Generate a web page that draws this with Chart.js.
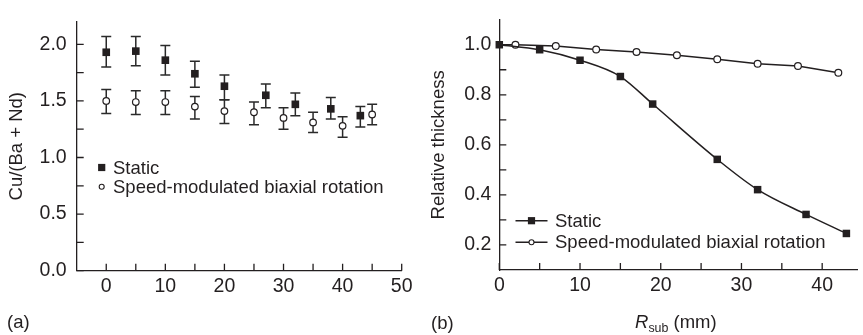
<!DOCTYPE html>
<html>
<head>
<meta charset="utf-8">
<script src="https://cdn.jsdelivr.net/npm/chart.js@4.4.1/dist/chart.umd.min.js"></script>
<style>
  body { margin: 0; background: #fff; width: 863px; height: 335px; position: relative; overflow: hidden;
         font-family: "Liberation Sans", Arial, sans-serif; color: #231f20; }
  #wa { position: absolute; left: 0; top: 0; width: 430px; height: 335px; }
  #wb { position: absolute; left: 430px; top: 0; width: 433px; height: 335px; }
  .lab { position: absolute; font-size: 18.5px; line-height: 1; white-space: nowrap; }
  .lab sub { font-size: 12.4px; vertical-align: -4px; line-height: 0; }
</style>
</head>
<body>
<div id="wa"><canvas id="ca" width="430" height="335"></canvas></div>
<div id="wb"><canvas id="cb" width="433" height="335"></canvas></div>
<div class="lab" style="left:7px;top:313px">(a)</div>
<div class="lab" style="left:431px;top:314px">(b)</div>
<div class="lab" style="left:635px;top:313px"><i>R</i><sub>sub</sub> (mm)</div>

<script>
// (a) Cu/(Ba + Nd) ratio, with error bar ends
const aStaticX  = [0, 5, 10, 15, 20, 27, 32, 38, 43];
const aStaticY  = [1.93, 1.94, 1.86, 1.74, 1.63, 1.55, 1.47, 1.43, 1.37];
const aStaticHi = [2.07, 2.07, 1.99, 1.85, 1.73, 1.65, 1.57, 1.53, 1.45];
const aStaticLo = [1.80, 1.81, 1.73, 1.62, 1.51, 1.44, 1.37, 1.34, 1.27];

const aRotX  = [0, 5, 10, 15, 20, 25, 30, 35, 40, 45];
const aRotY  = [1.50, 1.49, 1.49, 1.45, 1.41, 1.40, 1.35, 1.31, 1.28, 1.38];
const aRotHi = [1.60, 1.59, 1.59, 1.54, 1.51, 1.49, 1.44, 1.40, 1.36, 1.47];
const aRotLo = [1.39, 1.38, 1.38, 1.34, 1.30, 1.29, 1.25, 1.22, 1.18, 1.29];

// (b) relative thickness vs R_sub
const bStaticX = [0, 5, 10, 15, 19, 27, 32, 38, 43];
const bStaticY = [1.0, 0.98, 0.938, 0.873, 0.763, 0.542, 0.421, 0.322, 0.246];
const bRotX = [0, 2, 7, 12, 17, 22, 27, 32, 37, 42];
const bRotY = [1.0, 1.0, 0.995, 0.981, 0.971, 0.958, 0.942, 0.924, 0.915, 0.888];

// tick positions (labels only on the major ones)
const aTicksX = [0, 5, 10, 15, 20, 25, 30, 35, 40, 45, 50];
const aTicksY = [0, 0.25, 0.5, 0.75, 1.0, 1.25, 1.5, 1.75, 2.0];
const bTicksX = [0, 5, 10, 15, 20, 25, 30, 35, 40];
const bTicksY = [0.2, 0.3, 0.4, 0.5, 0.6, 0.7, 0.8, 0.9, 1.0];

const legendA = ['Static', 'Speed-modulated biaxial rotation'];
const legendB = ['Static', 'Speed-modulated biaxial rotation'];

const ink = '#231f20';
const FONT = '"Liberation Sans", Arial, sans-serif';
const pts = (xs, ys) => xs.map((x, i) => ({ x: x, y: ys[i] }));

// inward tick marks on both axes
const innerTicks = {
  id: 'innerTicks',
  afterDraw(chart, args, opts) {
    const { ctx, chartArea: ca, scales } = chart;
    ctx.save();
    ctx.strokeStyle = ink;
    ctx.lineWidth = 1.3;
    ctx.beginPath();
    opts.x.forEach(v => {
      const px = scales.x.getPixelForValue(v);
      ctx.moveTo(px, ca.bottom);
      ctx.lineTo(px, ca.bottom - opts.len);
    });
    opts.y.forEach(v => {
      const py = scales.y.getPixelForValue(v);
      ctx.moveTo(ca.left, py);
      ctx.lineTo(ca.left + opts.len, py);
    });
    ctx.stroke();
    ctx.restore();
  }
};

// vertical error bars with caps, drawn under markers
const errorBars = {
  id: 'errorBars',
  beforeDatasetsDraw(chart) {
    const { ctx, scales } = chart;
    ctx.save();
    ctx.strokeStyle = '#2a2a2a';
    ctx.lineWidth = 1.5;
    chart.data.datasets.forEach(ds => {
      if (!ds.errHi) return;
      ds.data.forEach((p, i) => {
        const x = scales.x.getPixelForValue(p.x);
        const yh = scales.y.getPixelForValue(ds.errHi[i]);
        const yl = scales.y.getPixelForValue(ds.errLo[i]);
        ctx.beginPath();
        ctx.moveTo(x, yh); ctx.lineTo(x, yl);
        ctx.moveTo(x - 5, yh); ctx.lineTo(x + 5, yh);
        ctx.moveTo(x - 5, yl); ctx.lineTo(x + 5, yl);
        ctx.stroke();
      });
    });
    ctx.restore();
  }
};

// legend drawn inside the plot
const boxLegend = {
  id: 'boxLegend',
  afterDraw(chart, args, opts) {
    const ctx = chart.ctx;
    ctx.save();
    ctx.font = '18.5px ' + FONT;
    ctx.fillStyle = ink;
    ctx.strokeStyle = ink;
    ctx.textBaseline = 'middle';
    opts.labels.forEach((txt, i) => {
      const y = opts.y + i * opts.dy;
      const mx = opts.x;
      if (opts.lines) {
        ctx.lineWidth = 1.5;
        ctx.beginPath();
        ctx.moveTo(mx - 16, y); ctx.lineTo(mx + 16, y);
        ctx.stroke();
      }
      if (i === 0) {
        ctx.fillRect(mx - 3.6, y - 3.6, 7.2, 7.2);
      } else {
        ctx.beginPath();
        ctx.arc(mx, y, 2.5, 0, Math.PI * 2);
        ctx.fillStyle = '#fff';
        ctx.fill();
        ctx.lineWidth = 1.1;
        ctx.stroke();
        ctx.fillStyle = ink;
      }
      ctx.fillText(txt, opts.tx, y + 1);
    });
    ctx.restore();
  }
};

function axes(o) {
  const tickFont = { family: FONT, size: 19.5, lineHeight: 1.2 };
  return {
    x: {
      type: 'linear', min: o.xmin, max: o.xmax,
      afterBuildTicks: s => { s.ticks = o.tx.map(v => ({ value: v })); },
      afterFit: s => { s.height = o.xh; },
      grid: { display: false, drawTicks: false },
      border: { display: true, color: ink, width: 1.3 },
      ticks: { autoSkip: false, maxRotation: 0, padding: 4, color: ink, font: tickFont,
               callback: v => (Math.abs(v / o.xmaj - Math.round(v / o.xmaj)) < 1e-6 ? String(v) : '') }
    },
    y: {
      type: 'linear', min: o.ymin, max: o.ymax,
      afterBuildTicks: s => { s.ticks = o.ty.map(v => ({ value: v })); },
      afterFit: s => { s.width = o.yw; },
      grid: { display: false, drawTicks: false },
      border: { display: true, color: ink, width: 1.3 },
      ticks: { autoSkip: false, padding: o.ypad, color: ink, font: tickFont,
               callback: v => (Math.abs(v / o.ymaj - Math.round(v / o.ymaj)) < 1e-6 ? v.toFixed(1) : '') },
      title: { display: true, text: o.ytitle, color: ink, padding: { top: o.ytpad },
               font: { family: FONT, size: 18.5, lineHeight: 1 } }
    }
  };
}

new Chart(document.getElementById('ca'), {
  type: 'scatter',
  data: {
    datasets: [
      { label: 'Static', data: pts(aStaticX, aStaticY), errHi: aStaticHi, errLo: aStaticLo,
        pointStyle: 'rect', pointRadius: 5.4, backgroundColor: ink, borderWidth: 0, clip: false },
      { label: 'Speed-modulated biaxial rotation', data: pts(aRotX, aRotY), errHi: aRotHi, errLo: aRotLo,
        pointStyle: 'circle', pointRadius: 3.3, backgroundColor: '#fff', borderColor: ink, borderWidth: 1.2, clip: false }
    ]
  },
  options: {
    responsive: false, animation: false, events: [],
    layout: { padding: { left: 0, top: 8.3, right: 28.3, bottom: 0 } },
    scales: axes({ xmin: -5, xmax: 50, tx: aTicksX, xmaj: 10, xh: 64.3,
                   ymin: 0, ymax: 2.2, ty: aTicksY, ymaj: 0.5, yw: 76.7, ypad: 10,
                   ytitle: 'Cu/(Ba + Nd)', ytpad: 8 }),
    plugins: {
      legend: { display: false }, tooltip: { enabled: false },
      innerTicks: { x: aTicksX, y: aTicksY, len: 7 },
      boxLegend: { labels: legendA, x: 101.7, tx: 113, y: 167.5, dy: 19.2, lines: false }
    }
  },
  plugins: [errorBars, innerTicks, boxLegend]
});

new Chart(document.getElementById('cb'), {
  type: 'scatter',
  data: {
    datasets: [
      { label: 'Static', data: pts(bStaticX, bStaticY), showLine: true, cubicInterpolationMode: 'monotone',
        borderColor: ink, borderWidth: 1.5, pointStyle: 'rect', pointRadius: 5.3,
        pointBackgroundColor: ink, pointBorderWidth: 0, clip: false },
      { label: 'Speed-modulated biaxial rotation', data: pts(bRotX, bRotY), showLine: true,
        borderColor: ink, borderWidth: 1.5, pointStyle: 'circle',
        pointRadius: bRotX.map((x, i) => (i === 0 ? 0 : 3.4)),
        pointBackgroundColor: '#fff', pointBorderColor: ink, pointBorderWidth: 1.2, clip: false }
    ]
  },
  options: {
    responsive: false, animation: false, events: [],
    layout: { padding: { left: 0, top: 8.3, right: 3, bottom: 0 } },
    scales: axes({ xmin: 0, xmax: 44.4, tx: bTicksX, xmaj: 10, xh: 65,
                   ymin: 0.1, ymax: 1.1, ty: bTicksY, ymaj: 0.2, yw: 69.3, ypad: 8,
                   ytitle: 'Relative thickness', ytpad: 0 }),
    plugins: {
      legend: { display: false }, tooltip: { enabled: false },
      innerTicks: { x: bTicksX, y: bTicksY, len: 7 },
      boxLegend: { labels: legendB, x: 101.5, tx: 125, y: 220.7, dy: 21.6, lines: true }
    }
  },
  plugins: [innerTicks, boxLegend]
});
</script>
</body>
</html>
